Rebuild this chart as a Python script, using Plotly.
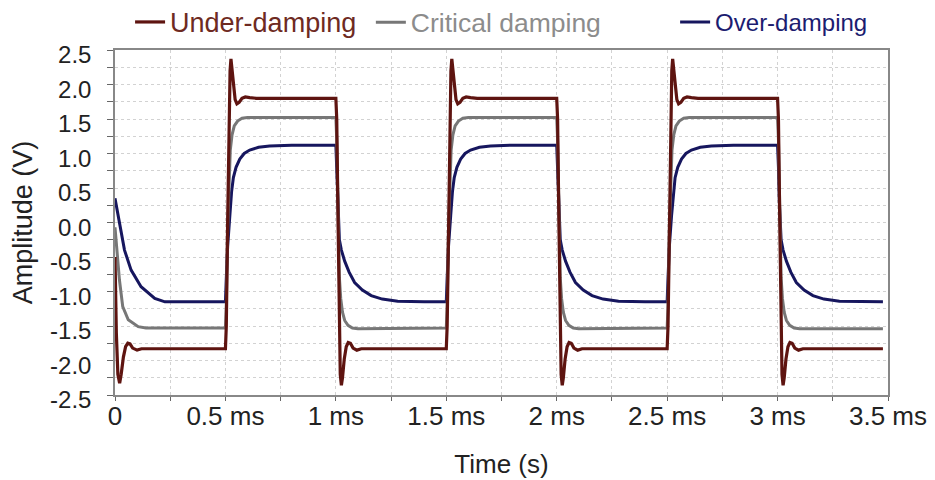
import plotly.graph_objects as go

# ---------------- data ----------------
# times in ms, amplitudes in V
rise_edges = [0.5, 1.5, 2.5]
fall_edges = [1.0, 2.0, 3.0]
t_end = 3.477

# Under-damping
ud_init_t = [0.0, 0.006, 0.013, 0.021, 0.028, 0.038, 0.048, 0.058, 0.068, 0.080, 0.100, 0.120]
ud_init_v = [-0.50, -1.60, -2.20, -2.33, -2.20, -1.95, -1.80, -1.75, -1.76, -1.82, -1.85, -1.83]
ud_rise_dt = [0.0, 0.004, 0.010, 0.016, 0.021, 0.025, 0.029, 0.036, 0.044, 0.052, 0.062, 0.075, 0.090, 0.110, 0.140]
ud_rise_v = [-1.83, -1.50, 0.00, 1.40, 2.20, 2.37, 2.25, 1.95, 1.78, 1.72, 1.74, 1.80, 1.82, 1.81, 1.80]
ud_fall_dt = [0.0, 0.004, 0.010, 0.016, 0.020, 0.025, 0.030, 0.038, 0.047, 0.056, 0.066, 0.078, 0.095, 0.115, 0.140]
ud_fall_v = [1.80, 1.50, 0.00, -1.40, -2.20, -2.36, -2.25, -1.98, -1.80, -1.74, -1.75, -1.82, -1.85, -1.83, -1.83]

# Critical damping
cd_init_t = [0.0, 0.012, 0.020, 0.035, 0.060, 0.105, 0.140]
cd_init_v = [-0.07, -0.59, -0.83, -1.22, -1.41, -1.51, -1.53]
cd_rise_dt = [0.0, 0.004, 0.010, 0.016, 0.022, 0.030, 0.040, 0.055, 0.075, 0.100]
cd_rise_v = [-1.53, -1.20, -0.10, 0.65, 1.05, 1.27, 1.40, 1.47, 1.51, 1.52]
cd_fall_dt = [0.0, 0.004, 0.010, 0.016, 0.022, 0.030, 0.040, 0.055, 0.075, 0.100]
cd_fall_v = [1.52, 1.20, 0.10, -0.80, -1.10, -1.30, -1.42, -1.49, -1.53, -1.54]

# Over-damping
od_init_t = [0.0, 0.020, 0.043, 0.073, 0.118, 0.180, 0.226, 0.300]
od_init_v = [0.35, -0.01, -0.40, -0.69, -0.93, -1.10, -1.15, -1.15]
od_rise_dt = [0.0, 0.004, 0.010, 0.020, 0.028, 0.036, 0.048, 0.065, 0.085, 0.110, 0.150, 0.200, 0.300]
od_rise_v = [-1.15, -0.80, -0.35, 0.10, 0.45, 0.65, 0.80, 0.92, 1.00, 1.05, 1.09, 1.11, 1.12]
od_fall_dt = [0.0, 0.004, 0.008, 0.016, 0.025, 0.040, 0.060, 0.085, 0.120, 0.160, 0.210, 0.280, 0.400]
od_fall_v = [1.12, 0.80, 0.30, -0.25, -0.40, -0.56, -0.72, -0.87, -0.98, -1.06, -1.11, -1.14, -1.15]

series_names = ["Under-damping", "Critical damping", "Over-damping"]
x_tick_vals = [0, 0.5, 1.0, 1.5, 2.0, 2.5, 3.0, 3.5]
x_tick_text = ["0", "0.5 ms", "1 ms", "1.5 ms", "2 ms", "2.5 ms", "3 ms", "3.5 ms"]
y_tick_vals = [2.5, 2.0, 1.5, 1.0, 0.5, 0.0, -0.5, -1.0, -1.5, -2.0, -2.5]
y_tick_text = ["2.5", "2.0", "1.5", "1.0", "0.5", "0.0", "-0.5", "-1.0", "-1.5", "-2.0", "-2.5"]


def build(init_t, init_v, rise_dt, rise_v, fall_dt, fall_v):
    xs = list(init_t)
    ys = list(init_v)
    edges = sorted([(e, "r") for e in rise_edges] + [(e, "f") for e in fall_edges])
    for e, kind in edges:
        dts, vs = (rise_dt, rise_v) if kind == "r" else (fall_dt, fall_v)
        for d, v in zip(dts, vs):
            xs.append(e + d)
            ys.append(v)
    xs.append(t_end)
    ys.append(ys[-1])
    return xs, ys


ud_x, ud_y = build(ud_init_t, ud_init_v, ud_rise_dt, ud_rise_v, ud_fall_dt, ud_fall_v)
cd_x, cd_y = build(cd_init_t, cd_init_v, cd_rise_dt, cd_rise_v, cd_fall_dt, cd_fall_v)
od_x, od_y = build(od_init_t, od_init_v, od_rise_dt, od_rise_v, od_fall_dt, od_fall_v)

line_colors = ["#5e1410", "#777777", "#16165e"]
text_colors = ["#6e2a22", "#8c8c8c", "#1c1c70"]

fig = go.Figure()
fig.add_trace(go.Scatter(x=od_x, y=od_y, mode="lines", name=series_names[2], showlegend=True,
                         line=dict(color=line_colors[2], width=3), legend="legend3"))
fig.add_trace(go.Scatter(x=cd_x, y=cd_y, mode="lines", name=series_names[1], showlegend=True,
                         line=dict(color=line_colors[1], width=3), legend="legend2"))
fig.add_trace(go.Scatter(x=ud_x, y=ud_y, mode="lines", name=series_names[0], showlegend=True,
                         line=dict(color=line_colors[0], width=3.2), legend="legend4"))

font_family = "Liberation Sans, Arial, sans-serif"
leg_common = dict(orientation="h", yanchor="middle", y=1.08, xanchor="left",
                  bgcolor="rgba(0,0,0,0)", borderwidth=0, itemwidth=30)

# page body adds an 8px offset, so the figure is 8px smaller than the window
fig.update_layout(
    width=927, height=472,
    margin=dict(l=107, r=47, t=42, b=85, autoexpand=False),
    paper_bgcolor="white", plot_bgcolor="white",
    font=dict(family=font_family, size=24, color="#222222"),
    showlegend=True,
    legend4=dict(**leg_common, x=0.0195, font=dict(family=font_family, size=27, color=text_colors[0])),
    legend2=dict(**leg_common, x=0.331, font=dict(family=font_family, size=26.5, color=text_colors[1])),
    legend3=dict(**leg_common, x=0.7246, font=dict(family=font_family, size=24, color=text_colors[2])),
    xaxis=dict(
        range=[0, 3.5], tickvals=x_tick_vals, ticktext=x_tick_text,
        ticks="outside", ticklen=4, tickcolor="#666", tickwidth=1,
        showline=True, linecolor="#888888", linewidth=1.5, mirror=True,
        showgrid=True, gridcolor="#d2d2d2", griddash="dot", gridwidth=1,
        minor=dict(dtick=0.25, tick0=0, ticks="outside", ticklen=4, tickcolor="#666",
                   showgrid=True, gridcolor="#d2d2d2", griddash="dot", gridwidth=1),
        zeroline=False,
        title=dict(text="Time (s)", font=dict(size=26, color="#222222"), standoff=25),
        tickfont=dict(size=26, color="#222222"),
        ticklabelstandoff=-7,
    ),
    yaxis=dict(
        range=[-2.5, 2.5], tickvals=y_tick_vals, ticktext=y_tick_text,
        ticks="outside", ticklen=6, tickcolor="#666", tickwidth=1,
        showline=True, linecolor="#888888", linewidth=1.5, mirror=True,
        showgrid=True, gridcolor="#d2d2d2", griddash="dot", gridwidth=1,
        minor=dict(dtick=0.25, tick0=0, ticks="outside", ticklen=6, tickcolor="#666",
                   showgrid=True, gridcolor="#d2d2d2", griddash="dot", gridwidth=1),
        zeroline=False,
        title=dict(text="Amplitude (V)", font=dict(size=27, color="#222222"), standoff=10),
        tickfont=dict(size=24, color="#222222"),
        ticklabelstandoff=11,
        ticklabelshift=5,
    ),
)

fig.write_html("out.html")
